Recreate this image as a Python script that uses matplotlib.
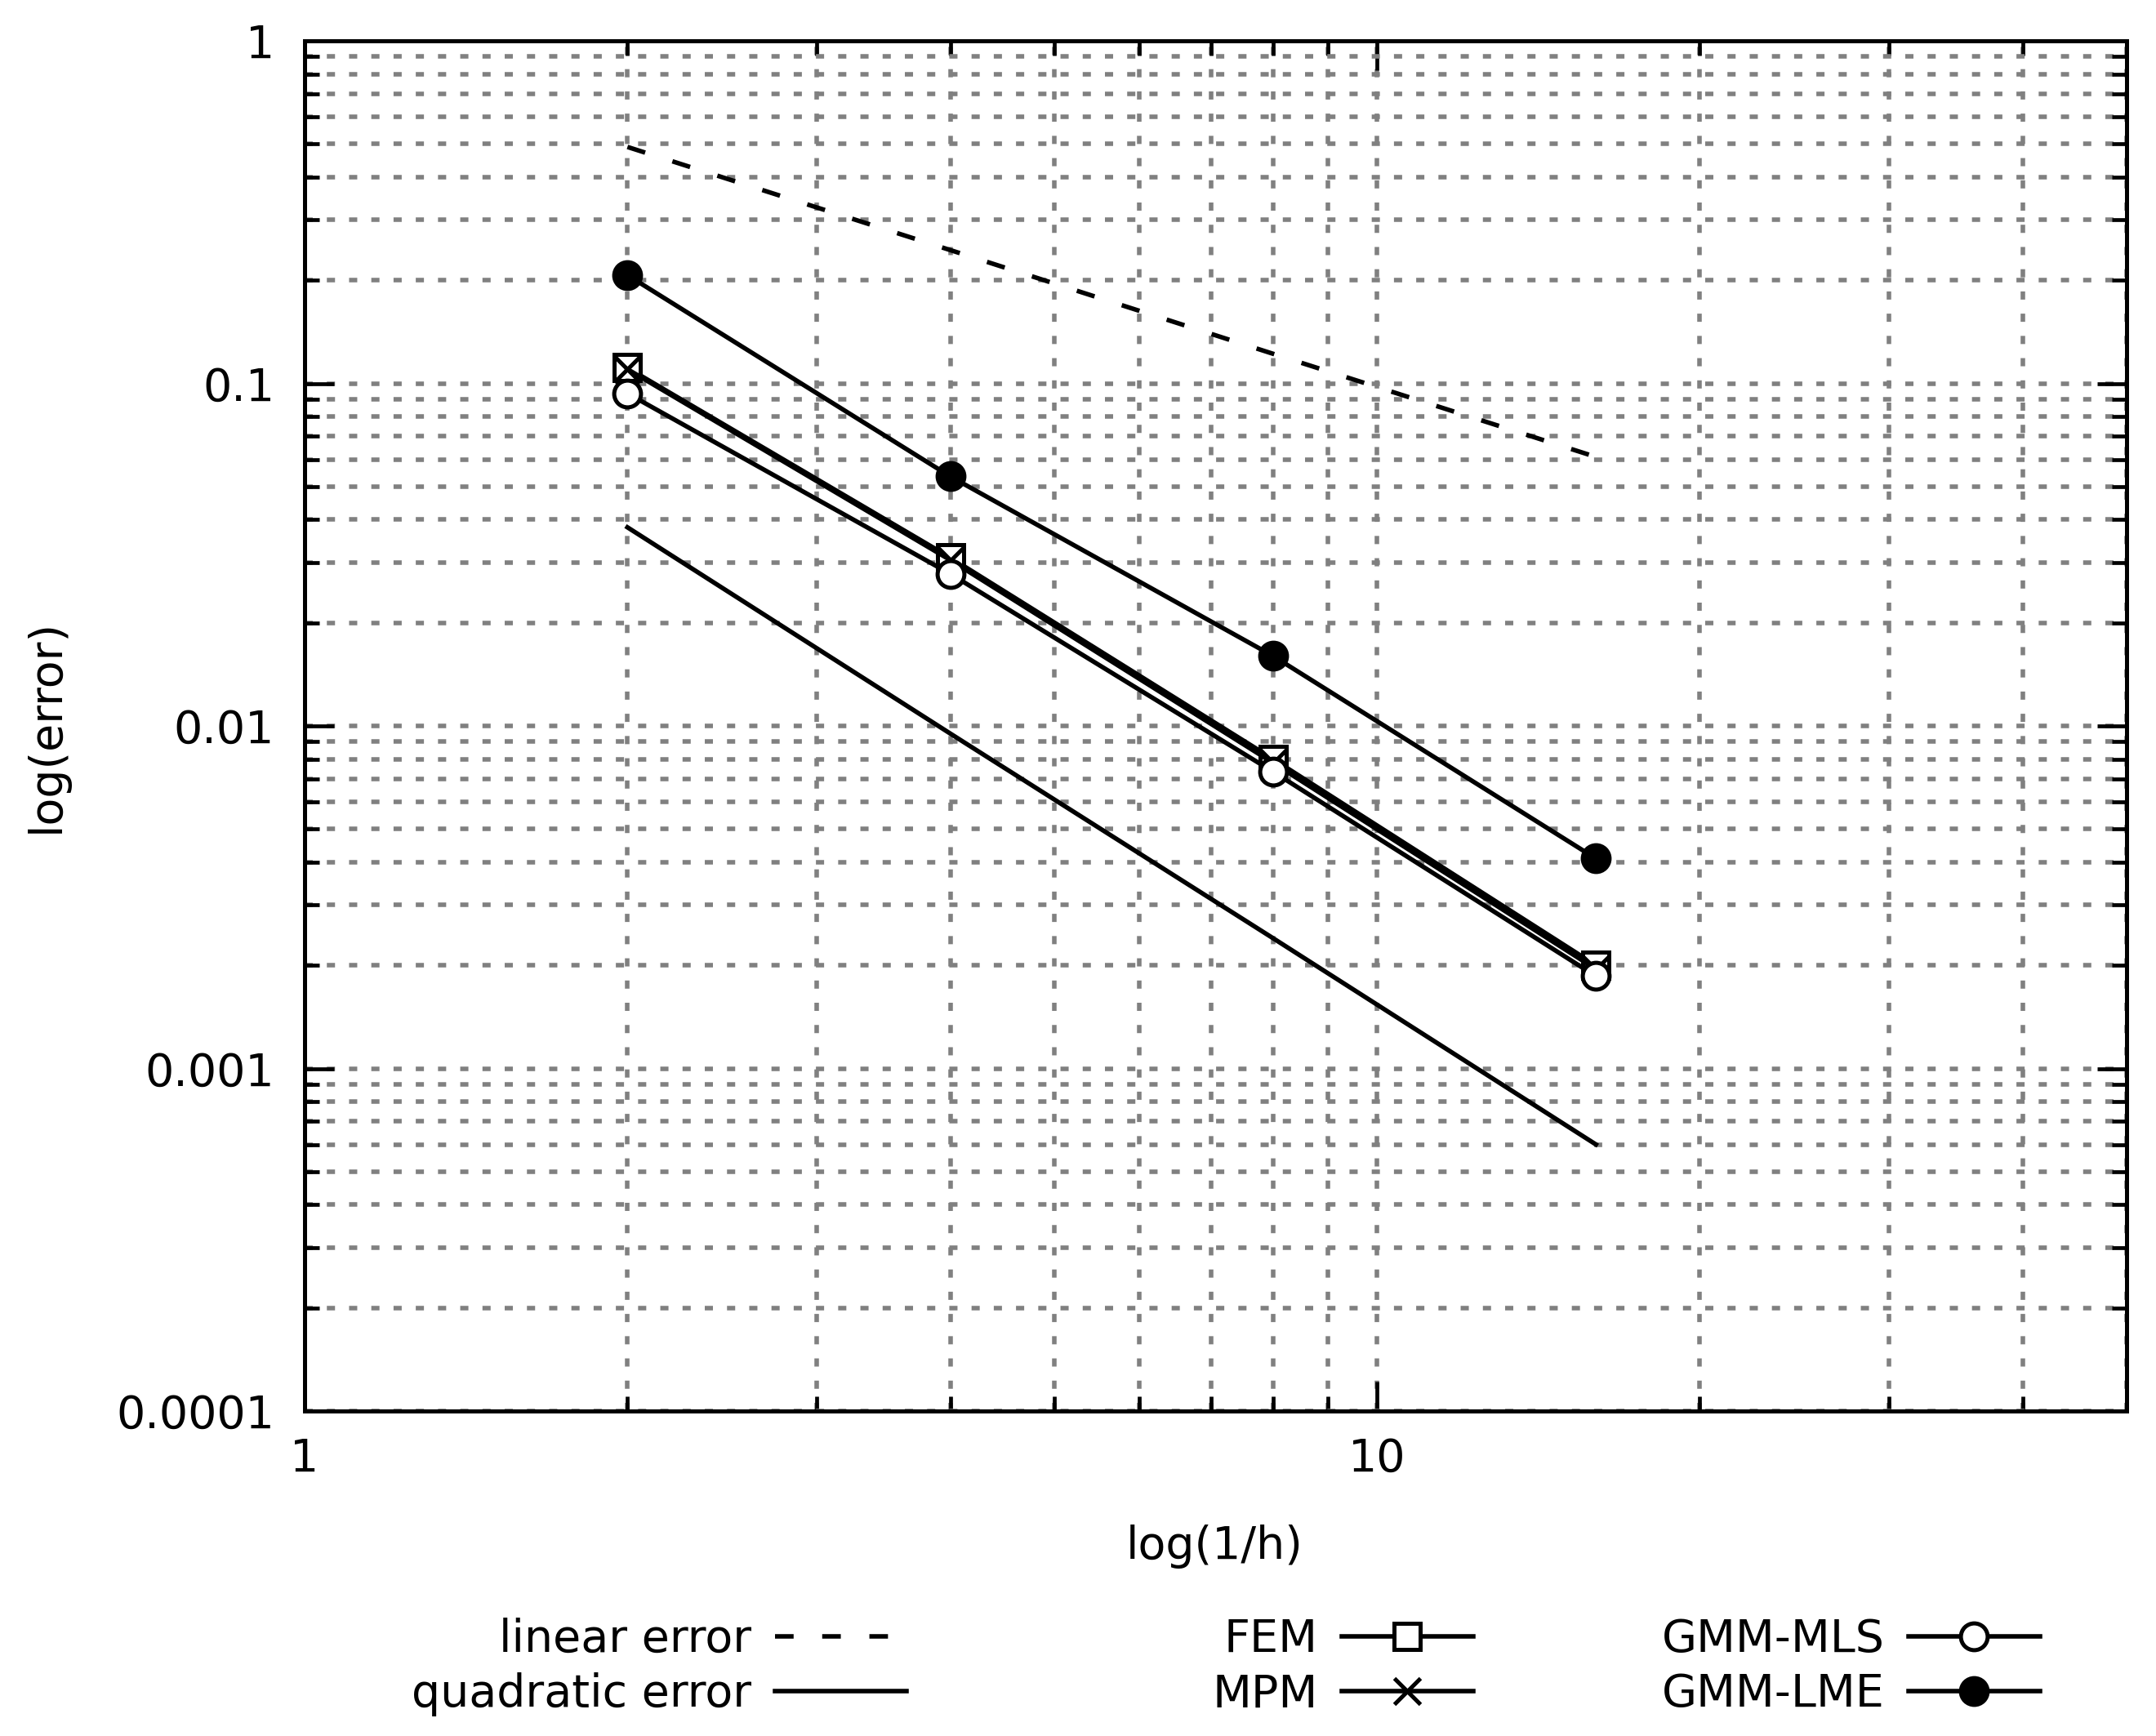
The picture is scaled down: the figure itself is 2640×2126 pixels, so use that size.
import matplotlib
matplotlib.use("Agg")
import matplotlib.pyplot as plt
from matplotlib.ticker import LogLocator, NullFormatter

# ---- data ----
h_inv = [2, 4, 8, 16]
fem = [0.111, 0.031, 0.0080, 0.0020]
mpm = [0.110, 0.0305, 0.0078, 0.00195]
gmm_mls = [0.0935, 0.0278, 0.00735, 0.00186]
gmm_lme = [0.207, 0.0535, 0.016, 0.0041]
linear_err = [0.49, 0.245, 0.122, 0.061]
quad_err = [0.038, 0.0095, 0.0024, 0.0006]

xticks = [1, 10]
xtick_labels = ["1", "10"]
yticks = [1e-4, 1e-3, 1e-2, 1e-1, 1]
ytick_labels = ["0.0001", "0.001", "0.01", "0.1", "1"]

plt.rcParams['font.family'] = ['DejaVu Sans']
FS = 20
W, H = 2640, 2126
fig = plt.figure(figsize=(W / 200, H / 200), dpi=200)
L, R, T, B = 373, 2604, 50, 1728
ax = fig.add_axes([L / W, 1 - B / H, (R - L) / W, (B - T) / H])

LW = 2.0
MS = 11.8
MEW = 1.8
common = dict(color='black', lw=LW, ms=MS, mew=MEW, mec='black')
l_fem, = ax.plot(h_inv, fem, marker='s', mfc='white', label='FEM', **common)
l_mpm, = ax.plot(h_inv, mpm, marker='x', label='MPM', **common)
l_mls, = ax.plot(h_inv, gmm_mls, marker='o', mfc='white', label='GMM-MLS', **common)
l_lme, = ax.plot(h_inv, gmm_lme, marker='o', mfc='black', label='GMM-LME', **common)
l_lin, = ax.plot(h_inv, linear_err, color='black', lw=LW, linestyle=(0, (4.1, 6.3)),
                 label='linear error')
l_quad, = ax.plot(h_inv, quad_err, color='black', lw=LW, label='quadratic error')

ax.set_xscale('log')
ax.set_yscale('log')
ax.set_xlim(1, 50)
ax.set_ylim(1e-4, 1)
ax.set_xticks(xticks, labels=xtick_labels)
ax.set_yticks(yticks, labels=ytick_labels)
ax.xaxis.set_minor_locator(LogLocator(base=10, subs=range(2, 10), numticks=20))
ax.yaxis.set_minor_locator(LogLocator(base=10, subs=range(2, 10), numticks=20))
ax.xaxis.set_minor_formatter(NullFormatter())
ax.yaxis.set_minor_formatter(NullFormatter())

ax.tick_params(which='both', direction='in', top=True, right=True, width=1.7,
               labelsize=FS, colors='black')
ax.tick_params(which='major', length=13)
ax.tick_params(which='minor', length=6.5)
ax.tick_params(axis='x', which='major', pad=11.5)
ax.tick_params(axis='y', which='major', pad=13.3)
for s in ax.spines.values():
    s.set_linewidth(1.8)

ax.set_axisbelow(True)
ax.grid(True, which='both', color='#808080', linewidth=2.0, linestyle=(0, (1.8, 3.1)))

fig.text(1487 / W, 1 - 1909 / H, 'log(1/h)', ha='center', va='baseline', fontsize=FS)
fig.text(57 / W, 1 - 889 / H, 'log(error)', ha='center', va='center', rotation=90,
         fontsize=FS)

leg_kw = dict(fontsize=FS, frameon=False, markerfirst=False, handlelength=2.9,
              handletextpad=0.52, labelspacing=0.24, borderpad=0, borderaxespad=0,
              loc='upper right', numpoints=1)
cols = [([l_lin, l_quad], 1110), ([l_fem, l_mpm], 1804), ([l_mls, l_lme], 2498)]
for handles, xr in cols:
    fig.legend(handles=handles, labels=[h.get_label() for h in handles],
               bbox_to_anchor=(xr / W, 1 - 1981 / H), **leg_kw)

fig.savefig('out.png', dpi=200, facecolor='white')
